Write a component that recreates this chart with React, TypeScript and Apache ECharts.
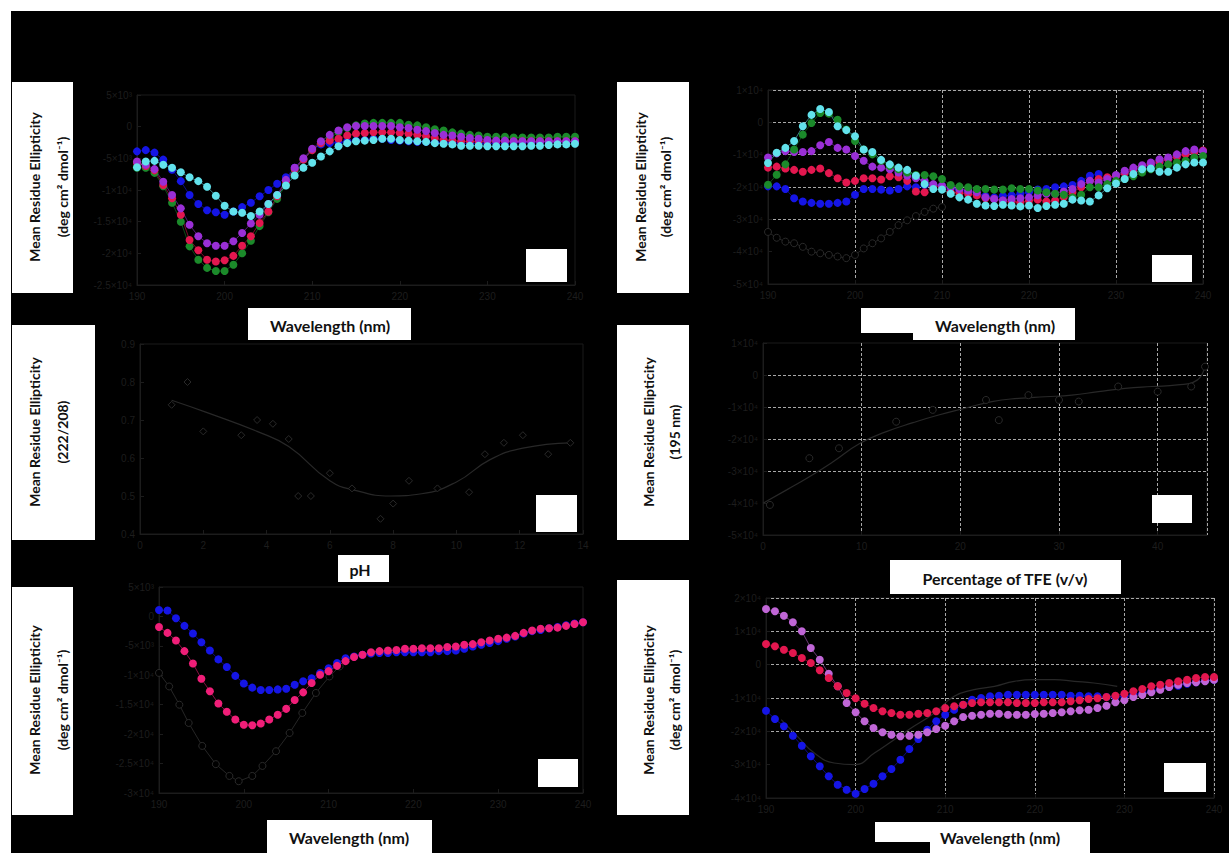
import React, { useEffect, useRef } from "react";
import * as echarts from "echarts";

// ---------- shared x values (nm) ----------
const WAVELENGTH = [190,191,192,193,194,195,196,197,198,199,200,201,202,203,204,205,206,207,208,209,210,211,212,213,214,215,216,217,218,219,220,221,222,223,224,225,226,227,228,229,230,231,232,233,234,235,236,237,238,239,240];

// ---------- panel 1 (top-left) ----------
const P1_BLUE = [-3900,-3700,-4100,-5200,-6800,-8600,-10800,-12200,-13200,-13500,-13900,-13400,-12700,-12000,-11000,-10000,-9000,-8000,-6500,-5200,-3600,-2800,-2600,-2500,-2300,-2200,-2100,-1900,-1900,-2100,-2200,-2300,-2400,-2400,-2500,-2500,-2500,-2600,-2600,-2600,-2600,-2600,-2600,-2500,-2500,-2500,-2500,-2400,-2400,-2400,-2400];
const P1_RED = [-5700,-6200,-6900,-9200,-11300,-13900,-17900,-19500,-21000,-21300,-21100,-20400,-18800,-17300,-15200,-13400,-11000,-8600,-6700,-5200,-3700,-2600,-2200,-1900,-1400,-1100,-1000,-900,-900,-900,-1000,-1100,-1300,-1500,-1800,-2100,-2200,-2300,-2300,-2300,-2300,-2300,-2300,-2300,-2300,-2300,-2300,-2300,-2300,-2300,-2300];
const P1_PURPLE = [-5500,-6000,-6700,-8700,-10800,-12900,-15500,-17300,-18400,-18800,-18800,-18100,-16800,-15300,-13900,-12200,-10800,-8400,-6500,-5000,-3500,-2300,-1300,-600,-100,100,100,100,100,100,-100,-200,-500,-700,-1000,-1300,-1400,-1600,-1800,-1900,-2100,-2200,-2200,-2300,-2300,-2300,-2300,-2300,-2300,-2300,-2300];
const P1_GREEN = [-6500,-6500,-7300,-9400,-12000,-15000,-18900,-21000,-22300,-22800,-22800,-21800,-20000,-18000,-15700,-13500,-11400,-9200,-6800,-5200,-3700,-2600,-1800,-900,-200,200,500,600,600,600,600,300,200,-100,-400,-600,-900,-1100,-1300,-1400,-1600,-1600,-1600,-1700,-1700,-1700,-1700,-1700,-1600,-1600,-1600];
const P1_CYAN = [-6400,-5500,-5400,-6000,-6500,-7200,-8000,-8600,-9500,-10900,-12500,-13400,-13600,-14100,-13400,-12200,-10800,-9300,-7700,-6500,-5700,-4700,-3900,-3100,-2600,-2300,-2200,-2100,-1900,-1900,-2100,-2200,-2300,-2400,-2600,-2700,-2800,-3000,-3000,-3000,-3100,-3100,-3100,-3100,-3100,-3000,-3000,-2900,-2800,-2800,-2700];

// ---------- panel 2 (top-right) ----------
const P2_GRAY_X = [190,191,192,193,194,195,196,197,198,199,200,201,202,203,204,205,206,207,208,209,210];
const P2_GRAY = [-33900,-35700,-36900,-37400,-38500,-40000,-40500,-41000,-41500,-42000,-41000,-39000,-37400,-35900,-33900,-31800,-30300,-29000,-27700,-26700,-26200];
const P2_BLUE = [-19800,-19800,-20600,-23500,-24500,-24900,-25200,-25200,-24900,-24500,-22400,-20600,-20600,-20800,-21100,-20600,-19800,-20100,-19400,-19400,-19600,-20400,-21100,-21600,-22100,-22800,-23200,-22800,-22600,-22100,-21600,-20800,-20600,-20100,-19800,-19400,-18100,-16500,-16000,-17300,-16500,-15500,-14700,-14000,-13300,-12400,-11400,-10400,-9600,-9200,-8900];
const P2_RED = [-14000,-13700,-14300,-14700,-15300,-14700,-14300,-15700,-17300,-18600,-18100,-17300,-17300,-17700,-16700,-17000,-18100,-21400,-21600,-19600,-20100,-21600,-21800,-22100,-22600,-23500,-23700,-24200,-24500,-24700,-24200,-23900,-24500,-24200,-23200,-21600,-20100,-18100,-17500,-17000,-16500,-15700,-14700,-13700,-13000,-12200,-11400,-10600,-9900,-9200,-8700];
const P2_PURPLE = [-10900,-9600,-8900,-9200,-9200,-8900,-7100,-6100,-7900,-8400,-10400,-11900,-13700,-14000,-14500,-15500,-16500,-17300,-18100,-19100,-19600,-20100,-20600,-21100,-21600,-23200,-23700,-24200,-23700,-23500,-23200,-22600,-22100,-22100,-21400,-20600,-19100,-18100,-18600,-17500,-16300,-15000,-14000,-13300,-12400,-11400,-10900,-9900,-8900,-8400,-8900];
const P2_GREEN = [-19300,-16200,-13000,-8400,-3800,-200,2900,2700,800,-2200,-5800,-8400,-9900,-11900,-13500,-14500,-15500,-16300,-16300,-16700,-17500,-19400,-19800,-20100,-20600,-20600,-20800,-20800,-20400,-20600,-20600,-21100,-21600,-22100,-22400,-23200,-22400,-20100,-20100,-19100,-18100,-17500,-16700,-15500,-14500,-13700,-13000,-12400,-11900,-10900,-10400];
const P2_CYAN = [-12600,-9400,-7900,-5800,-1200,2300,4100,3200,-1200,-2400,-4300,-8400,-9200,-11600,-13000,-14000,-14700,-16500,-19100,-20600,-20800,-22100,-23200,-23900,-25200,-25700,-25900,-25500,-25700,-26000,-25700,-26500,-25900,-25500,-25200,-23900,-24200,-24500,-22600,-20400,-18900,-17500,-16000,-14500,-14300,-15300,-15300,-14000,-13000,-12400,-12400];

// ---------- panel 3 (pH) ----------
const P3_PH = [1.0,1.5,2.0,3.2,3.7,4.2,4.7,5.0,5.4,6.0,6.7,7.6,8.0,8.5,9.4,10.4,10.9,11.5,12.1,12.9,13.6];
const P3_RATIO = [0.74,0.80,0.67,0.66,0.70,0.69,0.65,0.50,0.50,0.56,0.52,0.44,0.48,0.54,0.52,0.51,0.61,0.64,0.66,0.61,0.64];
const P3_FIT_PH = [1.0,2.1,3.7,4.7,6.0,6.8,7.9,8.9,10.0,11.05,12.1,13.6];
const P3_FIT = [0.752,0.72,0.67,0.63,0.54,0.515,0.50,0.506,0.537,0.595,0.626,0.64];

// ---------- panel 4 (TFE) ----------
const P4_FIT_TFE = [0,2.4,4.7,7.1,9.8,12.5,15.2,17.8,20.5,23.2,25.9,28.6,31.3,34,36.7,39.4,42,44,44.8];
const P4_FIT = [-40100,-35900,-31800,-27100,-21400,-17700,-14900,-12500,-10400,-8300,-7300,-6800,-6300,-5200,-4200,-3600,-3100,-1600,3100];
const P4_TFE = [0.7,4.7,7.7,13.5,17.2,22.6,23.9,26.9,30,32,36,40,43.4,44.8];
const P4_MRE = [-40600,-26000,-22900,-14600,-10900,-7800,-14100,-6300,-7800,-8300,-3600,-5200,-3600,2600];

// ---------- panel 5 (bottom-left) ----------
const P5_GRAY_X = [190,191.2,192.4,193.5,195.1,196.7,198.3,199.4,201,202.2,203.8,205.4,206.9,208.5,210.1,211.3];
const P5_GRAY = [-9600,-11900,-15000,-18100,-22000,-25100,-27100,-28000,-27100,-25400,-22900,-19800,-16400,-13000,-10200,-8500];
const P5_BLUE = [1100,1000,-300,-1600,-2900,-4400,-5800,-7300,-8600,-10100,-11400,-12100,-12500,-12500,-12400,-12300,-11600,-11000,-10500,-9600,-8800,-7900,-7100,-6800,-6500,-6300,-6200,-6200,-6100,-6100,-6100,-6100,-6100,-5900,-5900,-5800,-5500,-5100,-4800,-4500,-4200,-3800,-3400,-2900,-2500,-2300,-2000,-1800,-1500,-1200,-1000];
const P5_PINK = [-1800,-2800,-4100,-5900,-8000,-10600,-12700,-14800,-16200,-17500,-18400,-18500,-18200,-17500,-16700,-15700,-14200,-12900,-11300,-9900,-9300,-8400,-7600,-6900,-6500,-6100,-5900,-5800,-5700,-5500,-5500,-5400,-5400,-5400,-5200,-5100,-4800,-4700,-4400,-4100,-3800,-3600,-3300,-2800,-2400,-2100,-2000,-1900,-1600,-1300,-1000];

// ---------- panel 6 (bottom-right) ----------
const P6_GRAY_X = [191.7,193.5,195.4,197.6,199.9,202.1,204.3,206.5,208.8,211,213.2,215.5,217.7,219.9,222.2,224.4,226.6,229.2];
const P6_GRAY = [-16500,-21500,-26500,-29500,-30000,-26500,-22500,-18500,-14500,-9500,-7500,-6500,-5000,-4500,-4500,-5000,-5500,-6500];
const P6_BLUE = [-13800,-16300,-18500,-21300,-24300,-27500,-30500,-33500,-36000,-37500,-38700,-37300,-35700,-33500,-31300,-28500,-25300,-22300,-19500,-17000,-15000,-13500,-12000,-10500,-10000,-9500,-9300,-9000,-9000,-9000,-9000,-9000,-9000,-9000,-9300,-9300,-9500,-9500,-9700,-9700,-9500,-9000,-8500,-8000,-7300,-6700,-6300,-5700,-5300,-4800,-4500];
const P6_VIOLET = [16700,16000,14700,12700,10000,5000,1500,-2700,-6500,-11500,-14300,-17000,-19000,-20300,-21000,-21500,-21300,-21000,-20300,-19300,-18300,-17000,-15700,-15300,-15000,-14700,-14700,-15000,-15000,-15000,-14800,-14700,-14500,-14300,-14000,-13700,-13500,-13000,-12300,-11300,-10700,-9700,-9000,-8300,-7500,-6700,-6000,-5500,-5300,-5000,-4500];
const P6_RED = [6200,5500,4500,3500,2000,500,-1700,-4000,-6500,-8500,-10100,-11700,-13000,-14000,-14500,-15000,-15000,-14700,-14500,-14000,-13000,-12500,-12000,-11500,-11300,-11300,-11300,-11300,-11500,-11500,-11500,-11300,-11300,-11300,-11000,-10700,-10300,-10100,-9700,-9300,-8700,-8000,-7300,-6500,-6000,-5500,-5000,-4500,-4000,-3700,-3700];

// ---------- texts ----------
const Y_TITLE = "Mean Residue Ellipticity";
const Y_UNIT = "(deg cm² dmol⁻¹)";
const Y_UNIT_RATIO = "(222/208)";
const Y_UNIT_195 = "(195 nm)";
const X_WAVE = "Wavelength (nm)";
const X_PH = "pH";
const X_TFE = "Percentage of TFE (v/v)";

const C_BLUE = "#1515e6";
const C_RED = "#e3174f";
const C_PURPLE = "#9a2fd6";
const C_GREEN = "#1b8a2a";
const C_CYAN = "#62e2ec";
const C_PINK = "#f01e78";
const C_VIOLET = "#c066d6";
const C_DARK = "#2a2a2a";

const SUP: Record<string, string> = { "0": "⁰", "1": "¹", "2": "²", "3": "³", "4": "⁴", "5": "⁵", "6": "⁶", "7": "⁷", "8": "⁸", "9": "⁹", "-": "⁻" };
function sci(v: number): string {
  if (Math.abs(v) < 1e-9) return "0";
  const e = Math.floor(Math.log10(Math.abs(v)) + 1e-9);
  const m = +(v / Math.pow(10, e)).toFixed(1);
  return `${m}×10${String(e).split("").map((c) => SUP[c]).join("")}`;
}

const AX_COLOR = "#1c1c1c";
const LBL_COLOR = "#1d1d1d";
const GRID_COLOR = "#a8a8a8";

function xAxis(gi: number, min: number, max: number, interval: number, grid: boolean, extra: any = {}) {
  return {
    type: "value", gridIndex: gi, min, max, interval,
    axisLine: { show: true, onZero: false, lineStyle: { color: AX_COLOR } },
    axisTick: { show: true, inside: true, length: 4, lineStyle: { color: AX_COLOR } },
    axisLabel: { color: LBL_COLOR, fontSize: 10, fontFamily: "Liberation Sans", margin: 6, ...(extra.axisLabel || {}) },
    splitLine: grid ? { show: true, lineStyle: { color: GRID_COLOR, type: [3, 2], width: 1 } } : { show: false },
  };
}
function yAxis(gi: number, min: number, max: number, interval: number, gridColors: string[] | null, fmt: (v: number) => string) {
  return {
    type: "value", gridIndex: gi, min, max, interval,
    axisLine: { show: true, onZero: false, lineStyle: { color: AX_COLOR } },
    axisTick: { show: true, inside: true, length: 4, lineStyle: { color: AX_COLOR } },
    axisLabel: { color: LBL_COLOR, fontSize: 10, fontFamily: "Liberation Sans", margin: 5, formatter: fmt },
    splitLine: gridColors ? { show: true, lineStyle: { color: gridColors, type: [3, 2], width: 1 } } : { show: false },
  };
}

function dots(idx: number, values: number[], color: string, size = 8) {
  return {
    type: "line", xAxisIndex: idx, yAxisIndex: idx,
    data: WAVELENGTH.map((w, i) => [w, values[i]]),
    symbol: "circle", symbolSize: size,
    itemStyle: { color, borderColor: color, borderWidth: 0 },
    lineStyle: { width: 1, color, opacity: 0.55 },
    z: 3,
  };
}
function hollow(idx: number, xs: number[], ys: number[], withLine: boolean, sym = "circle") {
  return {
    type: "line", xAxisIndex: idx, yAxisIndex: idx,
    data: xs.map((x, i) => [x, ys[i]]),
    symbol: sym, symbolSize: 7,
    itemStyle: { color: "#000000", borderColor: C_DARK, borderWidth: 1 },
    lineStyle: { width: withLine ? 1 : 0, color: "#262626", opacity: withLine ? 1 : 0 },
    z: 2,
  };
}
function fitLine(idx: number, xs: number[], ys: number[]) {
  return {
    type: "line", xAxisIndex: idx, yAxisIndex: idx,
    data: xs.map((x, i) => [x, ys[i]]),
    symbol: "none", smooth: true,
    lineStyle: { width: 1.2, color: "#282828" },
    z: 2,
  };
}

function whiteRect(x: number, y: number, w: number, h: number) {
  return { type: "rect", shape: { x, y, width: w, height: h }, style: { fill: "#ffffff" }, z: 50 };
}
function vText(x: number, y: number, text: string) {
  return {
    type: "text", x, y, rotation: Math.PI / 2, z: 60,
    style: { text, fill: "#111", font: "bold 14px Lato", align: "center", verticalAlign: "middle" },
  };
}
function hText(x: number, y: number, text: string, size = 16) {
  return {
    type: "text", x, y, z: 60,
    style: { text, fill: "#111", font: `bold ${size}px Lato`, align: "center", verticalAlign: "middle" },
  };
}

export default function App() {
  const ref = useRef<HTMLDivElement>(null);
  useEffect(() => {
    if (!ref.current) return;
    const chart = echarts.init(ref.current, undefined, { renderer: "svg" });
    const gridBase = { show: true, borderColor: "#1a1a1a", borderWidth: 1, backgroundColor: "transparent" };
    const T = "transparent";
    const option: any = {
      animation: false,
      backgroundColor: "transparent",
      grid: [
        { ...gridBase, left: 137, top: 95, width: 438, height: 190 },
        { ...gridBase, left: 768, top: 90, width: 435, height: 194 },
        { ...gridBase, left: 140, top: 344, width: 443, height: 190 },
        { ...gridBase, left: 763, top: 343, width: 444, height: 192 },
        { ...gridBase, left: 159, top: 587, width: 424, height: 206 },
        { ...gridBase, left: 766, top: 598, width: 448, height: 200 },
      ],
      xAxis: [
        xAxis(0, 190, 240, 10, false),
        xAxis(1, 190, 240, 10, true),
        xAxis(2, 0, 14, 2, false),
        xAxis(3, 0, 45, 10, true, { axisLabel: { showMaxLabel: false } }),
        xAxis(4, 190, 240, 10, false),
        xAxis(5, 190, 240, 10, true),
      ],
      yAxis: [
        yAxis(0, -25000, 5000, 5000, null, sci),
        yAxis(1, -50000, 10000, 10000, [T, T, GRID_COLOR, GRID_COLOR, GRID_COLOR, GRID_COLOR, GRID_COLOR], sci),
        yAxis(2, 0.4, 0.9, 0.1, null, (v: number) => v.toFixed(1)),
        yAxis(3, -50000, 10000, 10000, [T, T, GRID_COLOR, GRID_COLOR, GRID_COLOR, GRID_COLOR, T], sci),
        yAxis(4, -30000, 5000, 5000, null, sci),
        yAxis(5, -40000, 20000, 10000, [T, T, GRID_COLOR, GRID_COLOR, GRID_COLOR, GRID_COLOR, GRID_COLOR], sci),
      ],
      series: [
        dots(0, P1_BLUE, C_BLUE),
        dots(0, P1_GREEN, C_GREEN),
        dots(0, P1_RED, C_RED),
        dots(0, P1_PURPLE, C_PURPLE),
        dots(0, P1_CYAN, C_CYAN),

        hollow(1, P2_GRAY_X, P2_GRAY, true),
        dots(1, P2_BLUE, C_BLUE),
        dots(1, P2_RED, C_RED),
        dots(1, P2_PURPLE, C_PURPLE),
        dots(1, P2_GREEN, C_GREEN),
        dots(1, P2_CYAN, C_CYAN),

        fitLine(2, P3_FIT_PH, P3_FIT),
        hollow(2, P3_PH, P3_RATIO, false, "diamond"),

        fitLine(3, P4_FIT_TFE, P4_FIT),
        hollow(3, P4_TFE, P4_MRE, false),

        hollow(4, P5_GRAY_X, P5_GRAY, true),
        dots(4, P5_BLUE, C_BLUE),
        dots(4, P5_PINK, C_PINK),

        fitLine(5, P6_GRAY_X, P6_GRAY),
        dots(5, P6_BLUE, C_BLUE),
        dots(5, P6_VIOLET, C_VIOLET),
        dots(5, P6_RED, C_RED),
      ],
      graphic: [
        // y-title boxes
        whiteRect(12, 82, 61, 211), vText(34, 187, Y_TITLE), vText(62, 187, Y_UNIT),
        whiteRect(617, 82, 72, 211), vText(640, 187, Y_TITLE), vText(665, 187, Y_UNIT),
        whiteRect(12, 325, 83, 215), vText(34, 432, Y_TITLE), vText(62, 432, Y_UNIT_RATIO),
        whiteRect(617, 325, 72, 215), vText(648, 432, Y_TITLE), vText(674, 432, Y_UNIT_195),
        whiteRect(12, 587, 61, 228), vText(34, 700, Y_TITLE), vText(62, 700, Y_UNIT),
        whiteRect(617, 580, 72, 235), vText(648, 700, Y_TITLE), vText(674, 700, Y_UNIT),
        // x-title boxes
        whiteRect(248, 308, 163, 32), hText(330, 325, X_WAVE),
        whiteRect(861, 308, 54, 25), whiteRect(913, 308, 162, 32), hText(995, 325, X_WAVE),
        whiteRect(338, 555, 51, 27), hText(360, 569, X_PH),
        whiteRect(890, 560, 231, 34), hText(1005, 578, X_TFE),
        whiteRect(267, 820, 165, 33), hText(349, 837, X_WAVE),
        whiteRect(875, 822, 57, 20), whiteRect(930, 822, 160, 31), hText(1000, 837, X_WAVE),
        // small legend placeholders
        whiteRect(526, 249, 41, 33),
        whiteRect(1152, 255, 40, 27),
        whiteRect(536, 495, 41, 37),
        whiteRect(1152, 495, 40, 28),
        whiteRect(538, 759, 40, 28),
        whiteRect(1164, 763, 42, 29),
      ],
    };
    chart.setOption(option);
    return () => chart.dispose();
  }, []);

  return (
    <div style={{ position: "fixed", left: 0, top: 0, width: 1229, height: 853, background: "#ffffff", overflow: "hidden" }}>
      <div style={{ position: "absolute", left: 11, top: 11, width: 1218, height: 842, background: "#000000" }} />
      <div ref={ref} style={{ position: "absolute", left: 0, top: 0, width: 1229, height: 853 }} />
    </div>
  );
}
